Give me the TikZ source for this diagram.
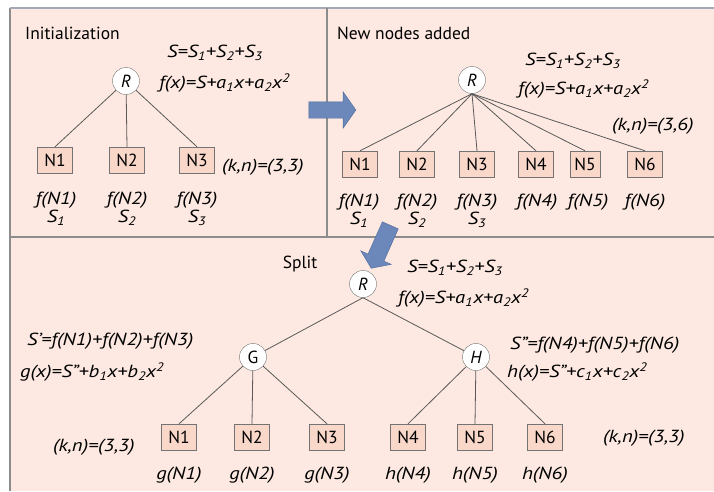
\documentclass[tikz,border=0pt]{standalone}
\usepackage{fontspec}
\setmainfont{PT Sans}
\newfontfamily\eqfont[FakeStretch=1.18]{PT Sans Italic}
\usetikzlibrary{positioning,shapes.arrows}
\definecolor{panel}{HTML}{FDE9E1}
\definecolor{leaffill}{HTML}{F9D7C9}
\definecolor{framegray}{HTML}{8C8C8C}
\definecolor{topline}{HTML}{A4AAB8}
\definecolor{arrowblue}{HTML}{6C87BA}
\definecolor{arrowedge}{HTML}{4D6899}
\newcommand{\bigtext}{\fontsize{17.5}{21}\selectfont}
\tikzstyle{nod}= [circle, draw=black!55, fill=white, inner sep=0pt, minimum size=27pt]
\tikzstyle{leaf}= [rectangle, draw=black!55, fill=leaffill, inner sep=0pt, minimum width=35pt, minimum height=26pt]
\tikzstyle{eq}= [inner sep=0pt, anchor=west, font=\bigtext\eqfont]
\tikzstyle{val}= [inner sep=0pt, font=\bigtext\eqfont]
\tikzstyle{edge}= [draw=black!65, line width=0.8pt]
\tikzstyle{bigarrow}= [single arrow, draw=arrowedge, fill=arrowblue, inner xsep=0pt, inner ysep=8pt, minimum height=47pt, single arrow head extend=10pt, single arrow tip angle=110]

\begin{document}
\begin{tikzpicture}[x=1pt, y=-1pt, font=\bigtext]
				\useasboundingbox (0,0) rectangle (714,491);
				% panels
				\fill[panel] (10,8) rectangle (714,491);
				\draw[framegray, line width=1.4pt] (10,491) -- (10,8);
				\draw[topline, line width=1.6pt] (10,8) -- (714,8);
				\draw[framegray, line width=1.4pt] (327,8) -- (327,237);
				\draw[framegray, line width=1.4pt] (10,237) -- (714,237);

				% initialization
				\node[inner sep=0pt, anchor=west] (t1) at (25,33) {Initialization};
				\node[nod] (r1) at (126,81) {\itshape R};
				\node[eq] (s1) at (167,53) {S=S\textsubscript{1}+S\textsubscript{2}+S\textsubscript{3}};
				\node[eq] (f1) at (159,83) {f(x)=S+a\textsubscript{1}x+a\textsubscript{2}x\textsuperscript{2}};
				\node[leaf] (a1) at (55,160) {N1};
				\node[leaf] (a2) at (127,160) {N2};
				\node[leaf] (a3) at (197,160) {N3};
				\node[eq] (k1) at (222,167) {(k,n)=(3,3)};
				\node[val] (fa1) at (56,200) {f(N1)};
				\node[val] (fa2) at (127,200) {f(N2)};
				\node[val] (fa3) at (197,200) {f(N3)};
				\node[val] (sa1) at (56,218) {S\textsubscript{1}};
				\node[val] (sa2) at (127,218) {S\textsubscript{2}};
				\node[val] (sa3) at (197,218) {S\textsubscript{3}};
				\draw[edge] (r1) -- (a1.north);
				\draw[edge] (r1) -- (a2.north);
				\draw[edge] (r1) -- (a3.north);

				\node[bigarrow] (go1) at (329.5,110) {};

				% new nodes added
				\node[inner sep=0pt, anchor=west] (t2) at (337,33) {New nodes added};
				\node[nod] (r2) at (472,80) {\itshape R};
				\node[eq] (s2) at (525,61) {S=S\textsubscript{1}+S\textsubscript{2}+S\textsubscript{3}};
				\node[eq] (f2) at (518,89) {f(x)=S+a\textsubscript{1}x+a\textsubscript{2}x\textsuperscript{2}};
				\node[eq] (k2) at (612,126) {(k,n)=(3,6)};
				\node[leaf] (b1) at (360,164) {N1};
				\node[leaf] (b2) at (417,164) {N2};
				\node[leaf] (b3) at (477,164) {N3};
				\node[leaf] (b4) at (536,164) {N4};
				\node[leaf, minimum width=30pt] (b5) at (585,164) {N5};
				\node[leaf] (b6) at (645,164) {N6};
				\node[val] (fb1) at (359,202) {f(N1)};
				\node[val] (fb2) at (417,202) {f(N2)};
				\node[val] (fb3) at (477,202) {f(N3)};
				\node[val] (fb4) at (537,202) {f(N4)};
				\node[val] (fb5) at (588,202) {f(N5)};
				\node[val] (fb6) at (645,202) {f(N6)};
				\node[val] (sb1) at (359,220) {S\textsubscript{1}};
				\node[val] (sb2) at (417,220) {S\textsubscript{2}};
				\node[val] (sb3) at (477,220) {S\textsubscript{3}};
				\draw[edge] (r2.south) -- (b1.north);
				\draw[edge] (r2.south) -- (b2.north);
				\draw[edge] (r2.south) -- (b3.north);
				\draw[edge] (r2.south) -- (b4.north);
				\draw[edge] (r2.south) -- (b5.north);
				\draw[edge] (r2.south) -- (b6.north);

				\node[bigarrow, inner ysep=8.5pt, single arrow head extend=8pt, rotate=-114] (go2) at (382,244) {};

				% split
				\node[inner sep=0pt] (t3) at (300,264) {Split};
				\node[nod] (r3) at (363,284) {\itshape R};
				\node[eq] (s3) at (407,268) {S=S\textsubscript{1}+S\textsubscript{2}+S\textsubscript{3}};
				\node[eq] (f3) at (398,298) {f(x)=S+a\textsubscript{1}x+a\textsubscript{2}x\textsuperscript{2}};
				\node[nod] (g) at (253,357) {G};
				\node[nod] (h) at (476,357) {\itshape H};
				\node[eq] (sg) at (27,341) {S’=f(N1)+f(N2)+f(N3)};
				\node[eq] (fg) at (20,372) {g(x)=S”+b\textsubscript{1}x+b\textsubscript{2}x\textsuperscript{2}};
				\node[eq] (sh) at (510,345) {S”=f(N4)+f(N5)+f(N6)};
				\node[eq] (fh) at (507,372) {h(x)=S”+c\textsubscript{1}x+c\textsubscript{2}x\textsuperscript{2}};
				\node[leaf] (c1) at (179,437) {N1};
				\node[leaf] (c2) at (252,437) {N2};
				\node[leaf] (c3) at (327,437) {N3};
				\node[leaf] (c4) at (408,437) {N4};
				\node[leaf] (c5) at (475,437) {N5};
				\node[leaf] (c6) at (545,437) {N6};
				\node[eq] (k3) at (53,447) {(k,n)=(3,3)};
				\node[eq] (k4) at (603,438) {(k,n)=(3,3)};
				\node[val] (gc1) at (179,475) {g(N1)};
				\node[val] (gc2) at (252,475) {g(N2)};
				\node[val] (gc3) at (327,475) {g(N3)};
				\node[val] (hc4) at (408,475) {h(N4)};
				\node[val] (hc5) at (475,475) {h(N5)};
				\node[val] (hc6) at (545,475) {h(N6)};
				\draw[edge] (r3.south) -- (g);
				\draw[edge] (r3.south) -- (h);
				\draw[edge] (g) -- (c1.north);
				\draw[edge] (g) -- (c2.north);
				\draw[edge] (g) -- (c3.north);
				\draw[edge] (h) -- (c4.north);
				\draw[edge] (h) -- (c5.north);
				\draw[edge] (h) -- (c6.north);
			\end{tikzpicture}
\end{document}
